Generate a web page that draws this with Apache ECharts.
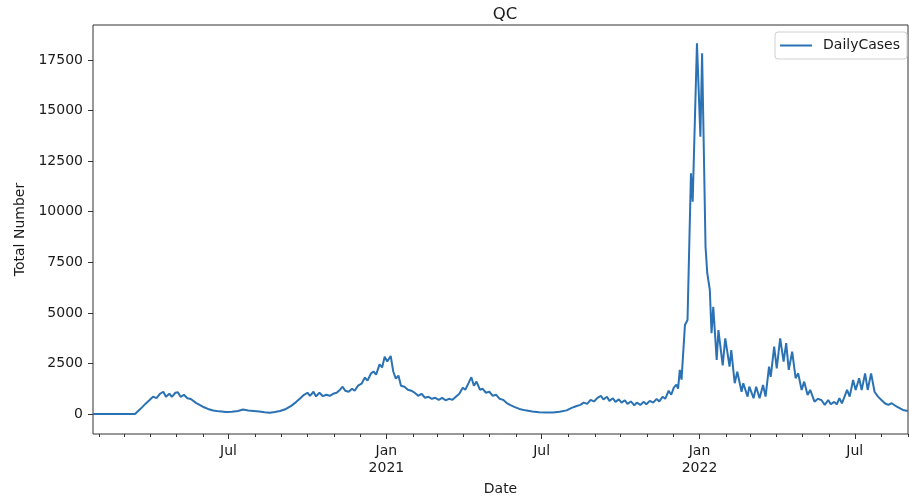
<!DOCTYPE html>
<html>
<head>
<meta charset="utf-8">
<script src="https://cdn.jsdelivr.net/npm/echarts@6/dist/echarts.min.js"></script>
<style>
html,body{margin:0;padding:0;background:#fff;}
#chart{width:909px;height:501px;}
</style>
</head>
<body>
<div id="chart"></div>
<script>
// ---- data ----
const chartTitle = 'QC';
const seriesName = 'DailyCases';
const xAxisName = 'Date';
const yAxisName = 'Total Number';

const dates2020 = ['2020-01-25','2020-03-14','2020-03-21','2020-03-26','2020-03-31','2020-04-04','2020-04-08','2020-04-12','2020-04-16','2020-04-19','2020-04-23','2020-04-26','2020-04-30','2020-05-03','2020-05-06','2020-05-10','2020-05-14','2020-05-18','2020-05-24','2020-06-01','2020-06-07','2020-06-13','2020-06-20','2020-06-28','2020-07-05','2020-07-12','2020-07-18','2020-07-24','2020-07-30','2020-08-06','2020-08-12','2020-08-18','2020-08-24','2020-08-30','2020-09-06','2020-09-12','2020-09-18','2020-09-22','2020-09-27','2020-10-01','2020-10-04','2020-10-08','2020-10-11','2020-10-15','2020-10-19','2020-10-23','2020-10-27','2020-10-31','2020-11-04','2020-11-08','2020-11-11','2020-11-14','2020-11-18','2020-11-22','2020-11-25','2020-11-29','2020-12-03','2020-12-07','2020-12-10','2020-12-14','2020-12-17','2020-12-20','2020-12-24','2020-12-27','2020-12-30'];
const cases2020 = [0,5,280,500,690,860,780,1000,1100,850,1000,850,1050,1070,850,950,780,740,550,360,250,170,130,100,110,150,220,170,150,120,90,65,100,150,250,400,600,750,950,1050,900,1100,870,1050,880,950,900,1000,1050,1200,1350,1150,1100,1250,1150,1400,1500,1800,1650,2000,2100,1950,2450,2300,2830];

const dates2021 = ['2021-01-02','2021-01-06','2021-01-09','2021-01-12','2021-01-15','2021-01-18','2021-01-22','2021-01-26','2021-01-30','2021-02-03','2021-02-07','2021-02-11','2021-02-15','2021-02-19','2021-02-23','2021-02-27','2021-03-03','2021-03-07','2021-03-11','2021-03-15','2021-03-19','2021-03-23','2021-03-27','2021-03-31','2021-04-03','2021-04-07','2021-04-10','2021-04-13','2021-04-16','2021-04-20','2021-04-23','2021-04-27','2021-05-01','2021-05-05','2021-05-09','2021-05-13','2021-05-17','2021-05-21','2021-05-25','2021-05-30','2021-06-05','2021-06-12','2021-06-20','2021-06-28','2021-07-06','2021-07-14','2021-07-22','2021-07-30','2021-08-05','2021-08-10','2021-08-15','2021-08-19','2021-08-23','2021-08-27','2021-08-31','2021-09-04','2021-09-08','2021-09-11','2021-09-15','2021-09-18','2021-09-22','2021-09-25','2021-09-29','2021-10-02','2021-10-06','2021-10-09','2021-10-13','2021-10-17','2021-10-20','2021-10-24','2021-10-28','2021-10-31','2021-11-04','2021-11-08','2021-11-12','2021-11-15','2021-11-19','2021-11-22','2021-11-26','2021-11-29','2021-12-02','2021-12-05','2021-12-07','2021-12-09','2021-12-11','2021-12-15','2021-12-18','2021-12-22','2021-12-24','2021-12-29'];
const cases2021 = [2600,2870,2100,1750,1900,1400,1350,1200,1150,1050,900,1000,800,850,750,800,700,800,680,750,700,850,1000,1300,1200,1550,1820,1400,1600,1200,1250,1050,1100,900,950,750,700,550,450,350,250,180,120,90,70,70,110,180,300,380,450,560,500,700,620,800,900,720,850,650,780,600,720,560,680,500,620,430,560,450,600,480,650,560,750,620,850,750,1150,950,1300,1450,1250,2180,1700,4400,4650,11900,10500,18330];

const dates2022 = ['2022-01-02','2022-01-04','2022-01-08','2022-01-10','2022-01-13','2022-01-15','2022-01-17','2022-01-21','2022-01-23','2022-01-28','2022-01-31','2022-02-05','2022-02-07','2022-02-11','2022-02-14','2022-02-19','2022-02-21','2022-02-26','2022-02-28','2022-03-05','2022-03-08','2022-03-12','2022-03-16','2022-03-19','2022-03-23','2022-03-25','2022-03-29','2022-04-01','2022-04-05','2022-04-09','2022-04-12','2022-04-15','2022-04-19','2022-04-23','2022-04-26','2022-04-30','2022-05-03','2022-05-07','2022-05-10','2022-05-15','2022-05-19','2022-05-23','2022-05-27','2022-05-31','2022-06-03','2022-06-07','2022-06-10','2022-06-13','2022-06-16','2022-06-22','2022-06-25','2022-06-29','2022-07-02','2022-07-06','2022-07-09','2022-07-13','2022-07-16','2022-07-20','2022-07-24','2022-07-28','2022-08-01','2022-08-05','2022-08-09','2022-08-13','2022-08-19','2022-08-26','2022-09-01'];
const cases2022 = [13710,17830,8270,6960,6130,4000,5300,2670,4150,2400,3740,2340,3160,1520,2090,1100,1520,860,1350,780,1350,780,1430,860,2340,1840,3330,2260,3740,2590,3500,2180,3080,1770,2010,1190,1600,940,1190,610,750,690,450,690,480,600,480,780,530,1190,860,1680,1190,1770,1190,2010,1190,2010,1100,860,690,530,450,530,360,200,150];

const xMin = '2020-01-25';
const xMax = '2022-09-01';
const yMin = -989;
const yMax = 19232;
const yTicks = [0,2500,5000,7500,10000,12500,15000,17500];
const monthTickStarts = { startYear: 2020, startMonth: 2, endYear: 2022, endMonth: 9 };
const majorMonths = [1, 7]; // Jan, Jul
const monthNames = ['Jan','Feb','Mar','Apr','May','Jun','Jul','Aug','Sep','Oct','Nov','Dec'];

// ---- build ----
function ts(s){ const p = s.split('-').map(Number); return new Date(p[0], p[1]-1, p[2]).getTime(); }
function pairs(ds, vs){ return ds.map((d,i)=>[ts(d), vs[i]]); }
const seriesData = [].concat(pairs(dates2020,cases2020), pairs(dates2021,cases2021), pairs(dates2022,cases2022));

const minorTicks = [], majorTicks = [];
for (let y = monthTickStarts.startYear; y <= monthTickStarts.endYear; y++) {
  for (let m = 1; m <= 12; m++) {
    if (y === monthTickStarts.startYear && m < monthTickStarts.startMonth) continue;
    if (y === monthTickStarts.endYear && m > monthTickStarts.endMonth) continue;
    const t = new Date(y, m-1, 1).getTime();
    minorTicks.push(t);
    if (majorMonths.indexOf(m) >= 0) majorTicks.push(t);
  }
}

const FONT = 'DejaVu Sans';
const TXT = '#1a1a1a';
const chart = echarts.init(document.getElementById('chart'), null, {renderer:'canvas'});
chart.setOption({
  animation: false,
  backgroundColor: '#fff',
  title: {
    text: chartTitle, left: 500, top: 1, textAlign: 'center',
    textStyle: { fontFamily: FONT, fontSize: 16.5, fontWeight: 'normal', color: TXT }
  },
  legend: {
    right: 2, top: 32,
    padding: [5, 7, 5, 5],
    borderColor: '#d0d0d0', borderWidth: 1, borderRadius: 3,
    backgroundColor: 'rgba(255,255,255,0.8)',
    itemWidth: 32, itemHeight: 2,
    icon: 'rect',
    textStyle: { fontFamily: FONT, fontSize: 14, color: TXT, lineHeight: 17, padding: [0,0,0,6] },
    data: [seriesName]
  },
  grid: {
    left: 93, right: 1, top: 25, bottom: 67,
    show: true, borderColor: '#333', borderWidth: 1, backgroundColor: 'transparent'
  },
  xAxis: [
    {
      type: 'value', min: ts(xMin), max: ts(xMax), position: 'bottom', scale: true,
      axisLine: { show: false, onZero: false },
      axisTick: { show: true, customValues: minorTicks, length: 3, lineStyle: { color: '#333', width: 1 } },
      axisLabel: { show: false },
      splitLine: { show: false }
    },
    {
      type: 'value', min: ts(xMin), max: ts(xMax), position: 'bottom', scale: true,
      name: xAxisName, nameLocation: 'middle', nameGap: 46,
      nameTextStyle: { fontFamily: FONT, fontSize: 14, color: TXT },
      axisLine: { show: false, onZero: false },
      axisTick: { show: true, customValues: majorTicks, length: 5, lineStyle: { color: '#333', width: 1 } },
      axisLabel: {
        show: true, customValues: majorTicks, margin: 9,
        fontFamily: FONT, fontSize: 14, color: TXT, lineHeight: 17,
        formatter: function (v) {
          const d = new Date(v);
          const m = d.getMonth();
          return m === 0 ? monthNames[m] + '\n' + d.getFullYear() : monthNames[m];
        }
      },
      splitLine: { show: false }
    }
  ],
  yAxis: {
    type: 'value', min: yMin, max: yMax,
    name: yAxisName, nameLocation: 'middle', nameGap: 61,
    nameTextStyle: { fontFamily: FONT, fontSize: 14, color: TXT },
    axisLine: { show: false, onZero: false },
    axisTick: { show: true, customValues: yTicks, length: 5, lineStyle: { color: '#333', width: 1 } },
    axisLabel: { show: true, customValues: yTicks, margin: 10, fontFamily: FONT, fontSize: 14, color: TXT,
      formatter: function (v) { return String(v); } },
    splitLine: { show: false }
  },
  series: [{
    name: seriesName, type: 'line', xAxisIndex: 0, yAxisIndex: 0,
    data: seriesData, showSymbol: false, symbol: 'none',
    lineStyle: { color: '#2a72b3', width: 2 },
    itemStyle: { color: '#2a72b3' }
  }]
});
</script>
</body>
</html>
